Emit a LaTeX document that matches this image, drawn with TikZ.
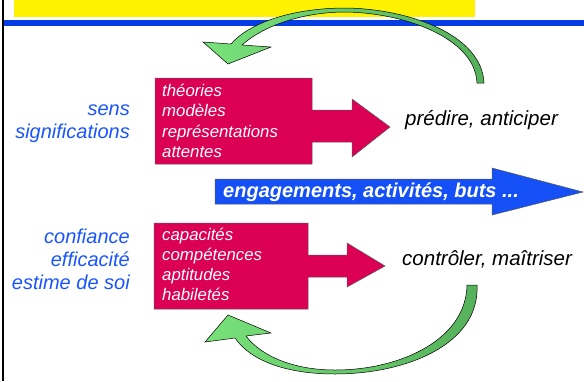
\documentclass[tikz,border=0pt]{standalone}
\usepackage{fontspec}
\setmainfont{Liberation Sans}
\definecolor{magbox}{RGB}{220,0,85}
\definecolor{bluearrow}{RGB}{20,80,245}
\definecolor{blueline}{RGB}{5,60,230}
\definecolor{bluetext}{RGB}{25,85,255}
\definecolor{greenlight}{RGB}{120,226,122}
\definecolor{greendark}{RGB}{85,176,90}
\tikzset{
	boxtext/.style={inner sep=0pt, align=left, text=white, font=\fontsize{16.8}{20.3}\selectfont\itshape},
	sidetext/.style={inner sep=0pt, align=right, text=bluetext, font=\fontsize{20}{23}\selectfont\itshape},
	goaltext/.style={inner sep=0pt, font=\fontsize{20.5}{24}\selectfont\itshape},
	loopfill/.style={draw=black, line width=0.5pt, shading=axis, left color=greenlight, right color=greendark},
	blockfill/.style={draw=black!65, line width=0.5pt, fill=magbox},
}

\begin{document}
\begin{tikzpicture}[x=1pt, y=-1pt]
				\useasboundingbox (0,0) rectangle (584,381);
				\fill[yellow] (14,0) rectangle (475,17);
				\fill[blueline] (3,20) rectangle (584,26);
				\draw[line width=2.2pt] (3,0) -- (3,381);
				% upper block
				\draw[blockfill] (155,78) -- (312,78) -- (312,110) -- (352,110) -- (352,99) -- (390,127) -- (352,157) -- (352,142) -- (312,142) -- (312,164) -- (155,164) -- cycle;
				\node[boxtext, anchor=north west] (theories)at(162,84) {théories\\modèles\\représentations\\attentes};
				\node[sidetext, anchor=north east] (sens)at(130,105) {sens\\significations};
				\node[goaltext, anchor=base west] (predire)at(405,125.5) {prédire, anticiper};
				% middle arrow
				\draw[draw=black!65, line width=0.5pt, fill=bluearrow] (215,179) -- (492,179) -- (492,168) -- (583,192) -- (492,215) -- (492,204) -- (215,204) -- cycle;
				\node[inner sep=0pt, anchor=base west, text=white, font=\fontsize{20}{24}\selectfont\bfseries\itshape] (engage)at(223,197) {engagements, activités, buts ...};
				% lower block
				\draw[blockfill] (154,223) -- (308,223) -- (308,255) -- (347,255) -- (347,243) -- (385,266) -- (347,287) -- (347,277) -- (308,277) -- (308,309) -- (154,309) -- cycle;
				\node[boxtext, anchor=north west] (capacites)at(162,227.5) {capacités\\compétences\\aptitudes\\habiletés};
				\node[sidetext, anchor=north east] (confiance)at(130,228.5) {confiance\\efficacité\\estime de soi};
				\node[goaltext, anchor=base west] (controler)at(402,265) {contrôler, maîtriser};
				% loops
				\draw[loopfill] (484,83) .. controls (482,35) and (410,9) .. (346,8) .. controls (290,8) and (248,24) .. (231,44) -- (203,42) -- (228,64) -- (271,47) -- (242,45) .. controls (262,27) and (300,12) .. (346,12) .. controls (405,13) and (475,38) .. (477,83) -- cycle;
				\draw[loopfill] (477,285) .. controls (480,345) and (405,374) .. (335,374) .. controls (285,374) and (250,360) .. (235,338) -- (205,342) -- (228,315) -- (271,333) -- (246,336) .. controls (262,357) and (295,370) .. (335,370) .. controls (400,370) and (466,340) .. (467,285) -- cycle;
\end{tikzpicture}
\end{document}
